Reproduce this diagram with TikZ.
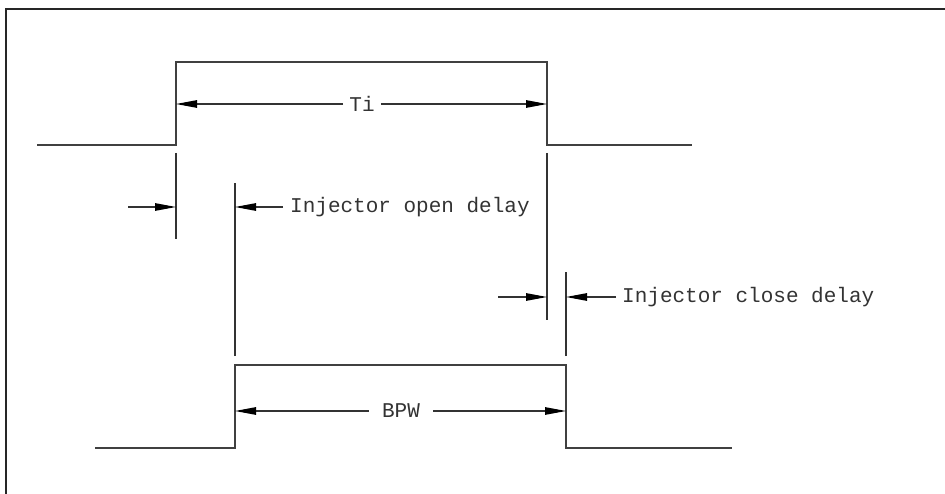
\documentclass[tikz,border=0pt]{standalone}
\usepackage{fontspec}
\newfontfamily\cadfont{Liberation Mono}
\usetikzlibrary{arrows.meta, positioning}

\begin{document}
\begin{tikzpicture}[
    x=1pt, y=-1pt,
    sig/.style={draw=black!75, line width=1.2pt},
    ext/.style={draw=black!80, line width=1.1pt},
    dim/.style={draw=black!80, line width=1.1pt, -{Triangle[length=21pt, width=7.5pt, color=black]}},
    lbl/.style={font=\cadfont\fontsize{21}{24}\selectfont, text=black!80, inner sep=0pt}
]
    \useasboundingbox (0,0) rectangle (945,494);
    % frame
    \draw[black!85, line width=2pt] (6,494) -- (6,9) -- (945,9);

    % Ti pulse
    \coordinate (a0) at (37,145);
    \coordinate (a1) at (176,145);
    \coordinate (a2) at (176,62);
    \coordinate (a3) at (547,62);
    \coordinate (a4) at (547,145);
    \coordinate (a5) at (692,145);
    \draw[sig] (a0) -- (a1) -- (a2) -- (a3) -- (a4) -- (a5);

    % BPW pulse
    \coordinate (b0) at (95,448);
    \coordinate (b1) at (235,448);
    \coordinate (b2) at (235,365);
    \coordinate (b3) at (566,365);
    \coordinate (b4) at (566,448);
    \coordinate (b5) at (732,448);
    \draw[sig] (b0) -- (b1) -- (b2) -- (b3) -- (b4) -- (b5);

    % Extension lines
    \draw[ext] ([yshift=-8pt]a1) -- ++(0,86);
    \draw[ext] ([yshift=-8pt]a4) -- ++(0,167);
    \draw[ext] ([yshift=9pt]b2) -- ++(0,-173);
    \draw[ext] ([yshift=9pt]b3) -- ++(0,-84);

    % Ti
    \node[lbl, inner xsep=6pt] (ti) at (362,104) {Ti};
    \draw[dim] (ti.west) -- (ti.west -| a2);
    \draw[dim] (ti.east) -- (ti.east -| a3);

    % BPW
    \node[lbl, inner xsep=13pt] (bpw) at (401,411) {BPW};
    \draw[dim] (bpw.west) -- (bpw.west -| b2);
    \draw[dim] (bpw.east) -- (bpw.east -| b3);

    % Open delay
    \coordinate (od-l) at (128,207);
    \coordinate (od-r) at (283,207);
    \draw[dim] (od-l) -- (od-l -| a1);
    \draw[dim] (od-r) -- (od-r -| b1);
    \node[lbl, right=7pt of od-r] (odl) {Injector open delay};

    % Close delay
    \coordinate (cd-l) at (498,297);
    \coordinate (cd-r) at (616,297);
    \draw[dim] (cd-l) -- (cd-l -| a4);
    \draw[dim] (cd-r) -- (cd-r -| b4);
    \node[lbl, right=6pt of cd-r] (cdl) {Injector close delay};
\end{tikzpicture}
\end{document}
